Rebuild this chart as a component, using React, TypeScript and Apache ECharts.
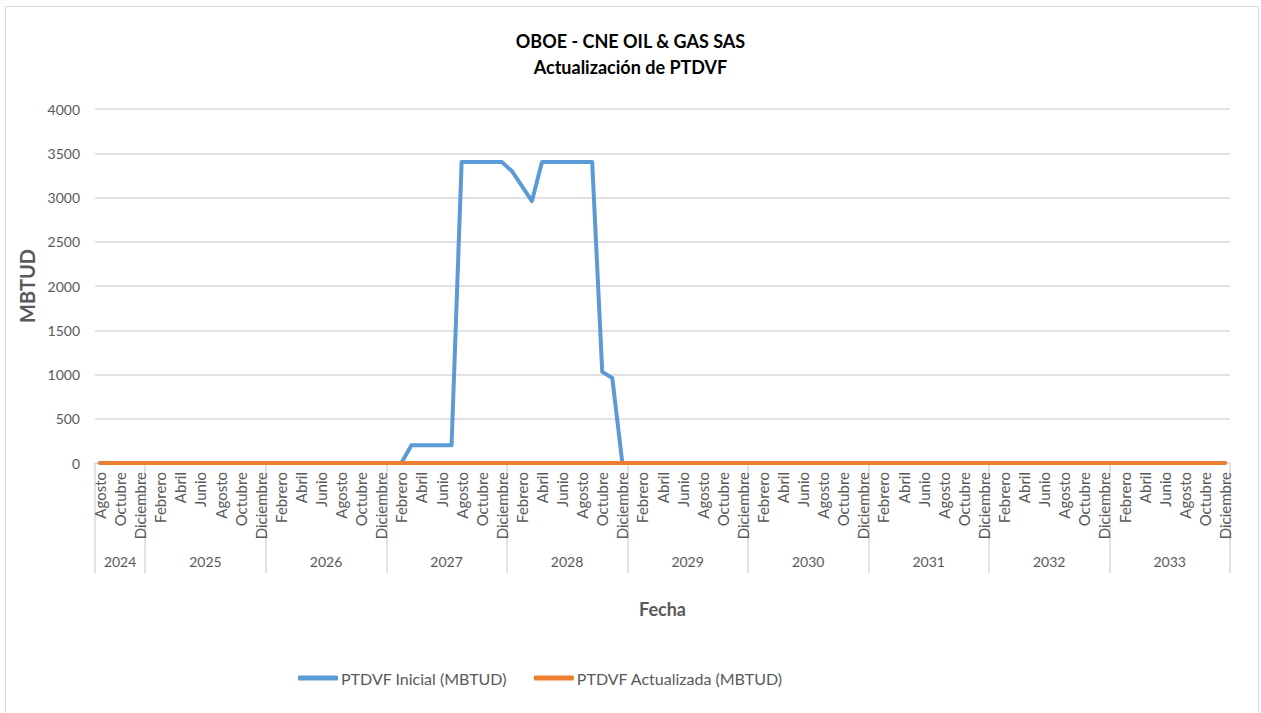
import React, { useEffect, useRef } from "react";
import * as echarts from "echarts";

const MESES = ["Enero", "Febrero", "Marzo", "Abril", "Mayo", "Junio", "Julio", "Agosto", "Septiembre", "Octubre", "Noviembre", "Diciembre"];
const YEARS = [2024, 2025, 2026, 2027, 2028, 2029, 2030, 2031, 2032, 2033];
const FIRST_MONTH_2024 = 7; // Agosto

// PTDVF Inicial (MBTUD) by year
const inicial2024 = [0, 0, 0, 0, 0];
const inicial2025 = [0, 0, 0, 0, 0, 0, 0, 0, 0, 0, 0, 0];
const inicial2026 = [0, 0, 0, 0, 0, 0, 0, 0, 0, 0, 0, 0];
const inicial2027 = [0, 0, 200, 200, 200, 200, 200, 3400, 3400, 3400, 3400, 3400];
const inicial2028 = [3300, 3130, 2960, 3400, 3400, 3400, 3400, 3400, 3400, 1030, 960, 0];
const inicial2029 = [0, 0, 0, 0, 0, 0, 0, 0, 0, 0, 0, 0];
const inicial2030 = [0, 0, 0, 0, 0, 0, 0, 0, 0, 0, 0, 0];
const inicial2031 = [0, 0, 0, 0, 0, 0, 0, 0, 0, 0, 0, 0];
const inicial2032 = [0, 0, 0, 0, 0, 0, 0, 0, 0, 0, 0, 0];
const inicial2033 = [0, 0, 0, 0, 0, 0, 0, 0, 0, 0, 0, 0];

// PTDVF Actualizada (MBTUD) by year
const actualizada2024 = [0, 0, 0, 0, 0];
const actualizada2025 = [0, 0, 0, 0, 0, 0, 0, 0, 0, 0, 0, 0];
const actualizada2026 = [0, 0, 0, 0, 0, 0, 0, 0, 0, 0, 0, 0];
const actualizada2027 = [0, 0, 0, 0, 0, 0, 0, 0, 0, 0, 0, 0];
const actualizada2028 = [0, 0, 0, 0, 0, 0, 0, 0, 0, 0, 0, 0];
const actualizada2029 = [0, 0, 0, 0, 0, 0, 0, 0, 0, 0, 0, 0];
const actualizada2030 = [0, 0, 0, 0, 0, 0, 0, 0, 0, 0, 0, 0];
const actualizada2031 = [0, 0, 0, 0, 0, 0, 0, 0, 0, 0, 0, 0];
const actualizada2032 = [0, 0, 0, 0, 0, 0, 0, 0, 0, 0, 0, 0];
const actualizada2033 = [0, 0, 0, 0, 0, 0, 0, 0, 0, 0, 0, 0];

const Y_TICKS = [0, 500, 1000, 1500, 2000, 2500, 3000, 3500, 4000];

const inicial = [
  ...inicial2024, ...inicial2025, ...inicial2026, ...inicial2027, ...inicial2028,
  ...inicial2029, ...inicial2030, ...inicial2031, ...inicial2032, ...inicial2033,
];
const actualizada = [
  ...actualizada2024, ...actualizada2025, ...actualizada2026, ...actualizada2027, ...actualizada2028,
  ...actualizada2029, ...actualizada2030, ...actualizada2031, ...actualizada2032, ...actualizada2033,
];

// Build categories (month|year) and year boundaries
const categories: string[] = [];
const yearBounds: number[] = [0];
const yearCenters: number[] = [];
YEARS.forEach((y) => {
  const start = categories.length;
  const m0 = y === 2024 ? FIRST_MONTH_2024 : 0;
  for (let m = m0; m < 12; m++) categories.push(MESES[m] + "|" + y);
  const end = categories.length;
  yearBounds.push(end);
  yearCenters.push((start + end) / 2);
});

const FONT = "Lato, 'Open Sans', sans-serif";
const GREY = "#595959";

export default function App() {
  const ref = useRef<HTMLDivElement>(null);
  useEffect(() => {
    if (!ref.current) return;
    const chart = echarts.init(ref.current, null, { renderer: "svg" });
    const n = categories.length;
    chart.setOption({
      animation: false,
      backgroundColor: "#ffffff",
      textStyle: { fontFamily: FONT },
      title: {
        text: "OBOE - CNE OIL & GAS SAS\nActualización de PTDVF",
        left: "center",
        top: 23,
        textStyle: { fontFamily: FONT, fontSize: 18, fontWeight: "bold", color: "#000000", lineHeight: 26 },
      },
      graphic: [
        {
          type: "rect",
          shape: { x: 5.5, y: 6.5, width: 1253, height: 720 },
          style: { fill: "none", stroke: "#d9d9d9", lineWidth: 1 },
          silent: true,
        },
      ],
      legend: {
        bottom: 22,
        left: 293,
        itemWidth: 40,
        itemHeight: 5,
        itemGap: 27,
        icon: "roundRect",
        textStyle: { fontFamily: FONT, fontSize: 16, color: GREY, padding: [0, 0, 0, -2] },
        data: ["PTDVF Inicial (MBTUD)", "PTDVF Actualizada (MBTUD)"],
      },
      grid: { left: 95, right: 31, top: 109, bottom: 250, containLabel: false },
      xAxis: [
        {
          type: "category",
          data: categories,
          boundaryGap: true,
          axisLine: { show: true, lineStyle: { color: "#d9d9d9" } },
          axisTick: { show: false },
          axisLabel: {
            interval: 1,
            rotate: 90,
            margin: 9,
            fontSize: 15,
            color: GREY,
            fontFamily: FONT,
            formatter: (v: string) => v.split("|")[0],
          },
          name: "Fecha",
          nameLocation: "middle",
          nameGap: 137,
          nameTextStyle: { fontFamily: FONT, fontSize: 18, fontWeight: "bold", color: GREY },
        },
        {
          type: "value",
          min: 0,
          max: n,
          position: "bottom",
          axisLine: { show: false },
          splitLine: { show: false },
          axisTick: {
            show: true,
            customValues: yearBounds,
            length: 110,
            lineStyle: { color: "#d9d9d9", width: 1.5 },
          },
          axisLabel: {
            customValues: yearCenters,
            margin: 91,
            fontSize: 14,
            color: GREY,
            fontFamily: FONT,
            formatter: (v: number) => {
              const i = yearCenters.findIndex((c) => Math.abs(c - v) < 0.01);
              return i >= 0 ? String(YEARS[i]) : "";
            },
          },
        },
      ],
      yAxis: {
        type: "value",
        min: 0,
        max: 4000,
        interval: 500,
        axisLine: { show: false },
        axisTick: { show: false },
        splitLine: { lineStyle: { color: "#d9d9d9", width: 1.5 } },
        axisLabel: {
          margin: 15,
          fontSize: 14,
          color: GREY,
          fontFamily: FONT,
          customValues: Y_TICKS,
          formatter: (v: number) => String(v),
        },
        name: "MBTUD",
        nameLocation: "middle",
        nameGap: 56,
        nameTextStyle: { fontFamily: FONT, fontSize: 20, fontWeight: "bold", color: GREY },
      },
      series: [
        {
          name: "PTDVF Inicial (MBTUD)",
          type: "line",
          data: inicial,
          symbol: "none",
          smooth: false,
          itemStyle: { color: "#5B9BD5" },
          lineStyle: { color: "#5B9BD5", width: 4, join: "round", cap: "round" },
          z: 2,
        },
        {
          name: "PTDVF Actualizada (MBTUD)",
          type: "line",
          data: actualizada,
          symbol: "none",
          smooth: false,
          itemStyle: { color: "#ED7D31" },
          lineStyle: { color: "#ED7D31", width: 4, join: "round", cap: "round" },
          z: 3,
        },
      ],
    });
    return () => chart.dispose();
  }, []);
  return (
    <div
      ref={ref}
      style={{ position: "fixed", left: 0, top: 0, width: 1261, height: 713, background: "#fff" }}
    />
  );
}
